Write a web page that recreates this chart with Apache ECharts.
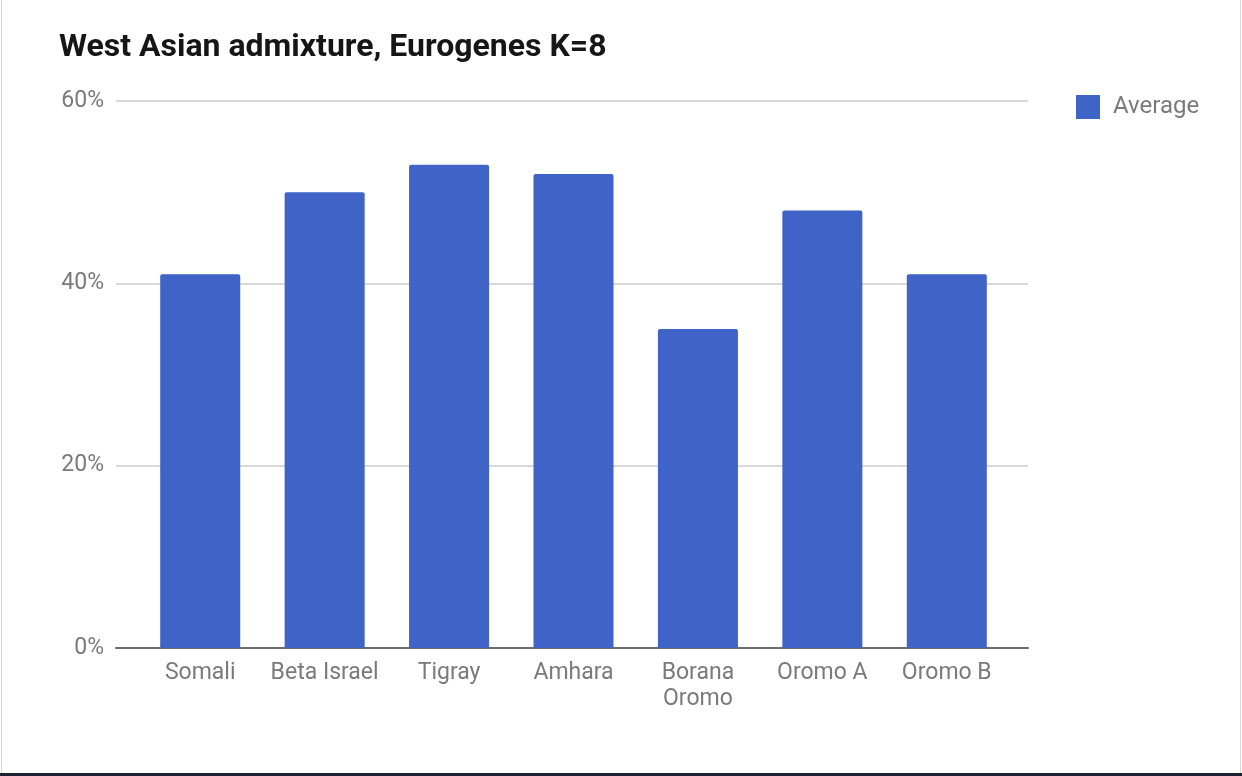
<!DOCTYPE html>
<html><head><meta charset="utf-8">
<script src="https://cdn.jsdelivr.net/npm/echarts@6/dist/echarts.min.js"></script>
<style>
html,body{margin:0;padding:0;background:#fff;}
#c{width:1242px;height:776px;position:relative;}
#frameL{position:absolute;left:1px;top:0;width:1px;height:776px;background:#d6d6d6;}
#frameR{position:absolute;right:1px;top:0;width:1px;height:776px;background:#d6d6d6;}
#frameB{position:absolute;left:0;bottom:0;width:1242px;height:3px;background:#1c2130;}
</style></head>
<body>
<div id="c"></div>
<div id="frameL"></div><div id="frameR"></div><div id="frameB"></div>
<script>
const categories = ['Somali', 'Beta Israel', 'Tigray', 'Amhara', 'Borana\nOromo', 'Oromo A', 'Oromo B'];
const averageValues = [41, 50, 53, 52, 35, 48, 41];
const yTicks = [0, 20, 40, 60];

const labelGray = '#7a7a7a';
const chart = echarts.init(document.getElementById('c'));
chart.setOption({
  animation: false,
  backgroundColor: 'transparent',
  title: {
    text: 'West Asian admixture, Eurogenes K=8',
    left: 54, top: 27,
    textStyle: {fontFamily: 'Roboto', fontWeight: 'bold', fontSize: 32, color: '#161616'}
  },
  legend: {
    data: ['Average'],
    left: 1071, top: 90,
    itemWidth: 24, itemHeight: 24, itemGap: 10,
    icon: 'rect',
    textStyle: {fontFamily: 'Roboto', fontSize: 24, color: labelGray, padding: [0,0,0,8]}
  },
  grid: [
    {left: 116, right: 214, top: 101, bottom: 128, containLabel: false},
    {left: 138, right: 233, top: 101, bottom: 128, containLabel: false}
  ],
  xAxis: [
    {
      gridIndex: 0, type: 'value', min: 0, max: 1,
      axisLine: {show: true, lineStyle: {color: '#6e6e6e', width: 2}},
      axisTick: {show: false}, axisLabel: {show: false}, splitLine: {show: false}
    },
    {
      gridIndex: 1, type: 'category', data: categories,
      axisLine: {show: false},
      axisTick: {show: false},
      axisLabel: {fontFamily: 'Roboto', fontSize: 23, color: labelGray, margin: 12, lineHeight: 26, interval: 0}
    }
  ],
  yAxis: [
    {
      gridIndex: 0, type: 'value',
      min: yTicks[0], max: yTicks[yTicks.length - 1], interval: 20,
      axisLine: {show: false}, axisTick: {show: false},
      splitLine: {lineStyle: {color: '#d9d9d9', width: 2}},
      axisLabel: {fontFamily: 'Roboto', fontSize: 23, color: labelGray, margin: 12, formatter: '{value}%'}
    },
    {
      gridIndex: 1, type: 'value',
      min: yTicks[0], max: yTicks[yTicks.length - 1], interval: 20,
      show: false
    }
  ],
  series: [{
    name: 'Average',
    type: 'bar',
    xAxisIndex: 1, yAxisIndex: 1,
    data: averageValues,
    barCategoryGap: '35.7%',
    itemStyle: {color: '#3f63c6', borderRadius: [2, 2, 0, 0]}
  }]
});
</script>
</body></html>
